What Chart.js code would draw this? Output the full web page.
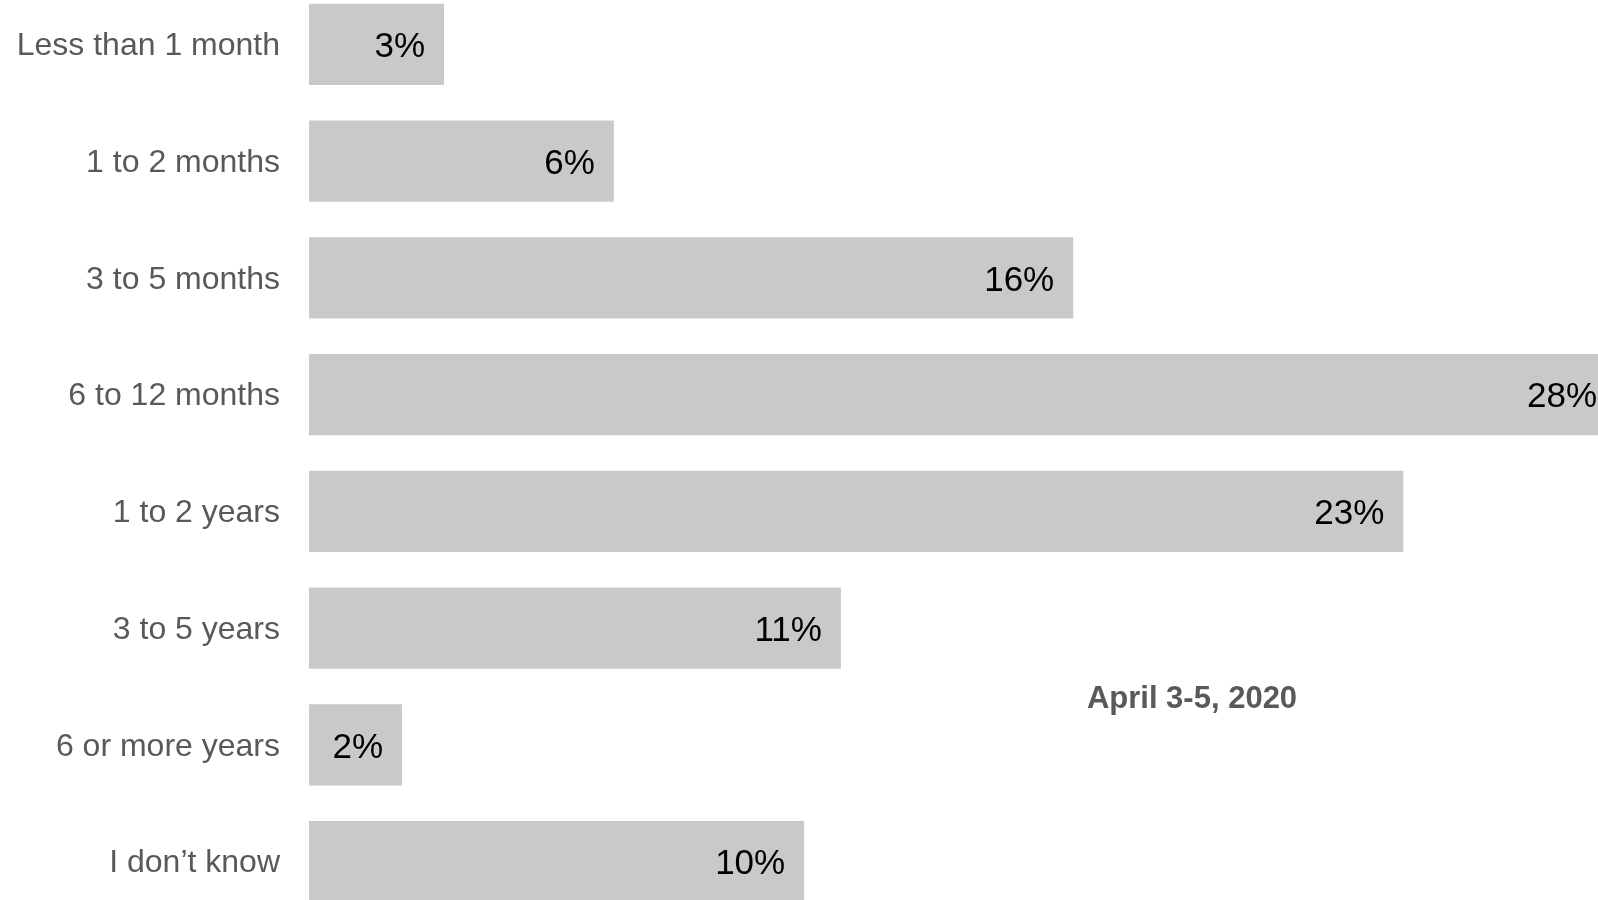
<!DOCTYPE html>
<html>
<head>
<meta charset="utf-8">
<script src="https://cdn.jsdelivr.net/npm/chart.js@4"></script>
<style>
    html, body { margin: 0; padding: 0; background: #fff; overflow: hidden; width: 1598px; height: 900px; }
    #wrap { position: absolute; left: 0; top: -14px; width: 1598px; height: 934px; }
</style>
</head>
<body>
<div id="wrap"><canvas id="chart"></canvas></div>
<script>
const categories = ['Less than 1 month', '1 to 2 months', '3 to 5 months', '6 to 12 months', '1 to 2 years', '3 to 5 years', '6 or more years', 'I don\u2019t know'];
const values = [2.83, 6.39, 16.02, 27.4, 22.94, 11.15, 1.95, 10.38];
const valueLabels = ['3%', '6%', '16%', '28%', '23%', '11%', '2%', '10%'];
const seriesName = 'April 3-5, 2020';

const FONT = '"Liberation Sans", Arial, sans-serif';

// value labels inside the bar end + the series name as a floating note
const barLabels = {
    id: 'barLabels',
    afterDatasetsDraw(chart) {
        const ctx = chart.ctx;
        const meta = chart.getDatasetMeta(0);
        ctx.save();
        ctx.font = '35px ' + FONT;
        ctx.fillStyle = '#000';
        ctx.textAlign = 'right';
        ctx.textBaseline = 'middle';
        meta.data.forEach((bar, i) => {
            ctx.fillText(valueLabels[i], bar.x - 19, bar.y + 3);
        });

        ctx.font = 'bold 31px ' + FONT;
        ctx.fillStyle = '#595959';
        ctx.textAlign = 'center';
        ctx.fillText(chart.data.datasets[0].label, 1192, 713);
        ctx.restore();
    },
};

new Chart(document.getElementById('chart'), {
    type: 'bar',
    data: {
        labels: categories,
        datasets: [{
            label: seriesName,
            data: values,
            backgroundColor: '#c9c9c9',
            borderWidth: 0,
            barPercentage: 0.694,
            categoryPercentage: 1,
        }],
    },
    options: {
        indexAxis: 'y',
        responsive: true,
        maintainAspectRatio: false,
        animation: false,
        layout: { padding: 0 },
        plugins: {
            legend: { display: false },
            tooltip: { enabled: false },
        },
        scales: {
            x: {
                display: false,
                min: 0,
                max: 27.02,
            },
            y: {
                grid: { display: false, drawTicks: false },
                border: { display: false },
                ticks: {
                    color: '#595959',
                    padding: 29,
                    labelOffset: 2,
                    font: { family: FONT, size: 32 },
                },
                afterFit(scale) {
                    scale.width = 309;
                    // no extra room above/below for the tick labels
                    scale.paddingTop = 0;
                    scale.paddingBottom = 0;
                },
            },
        },
    },
    plugins: [barLabels],
});
</script>
</body>
</html>
